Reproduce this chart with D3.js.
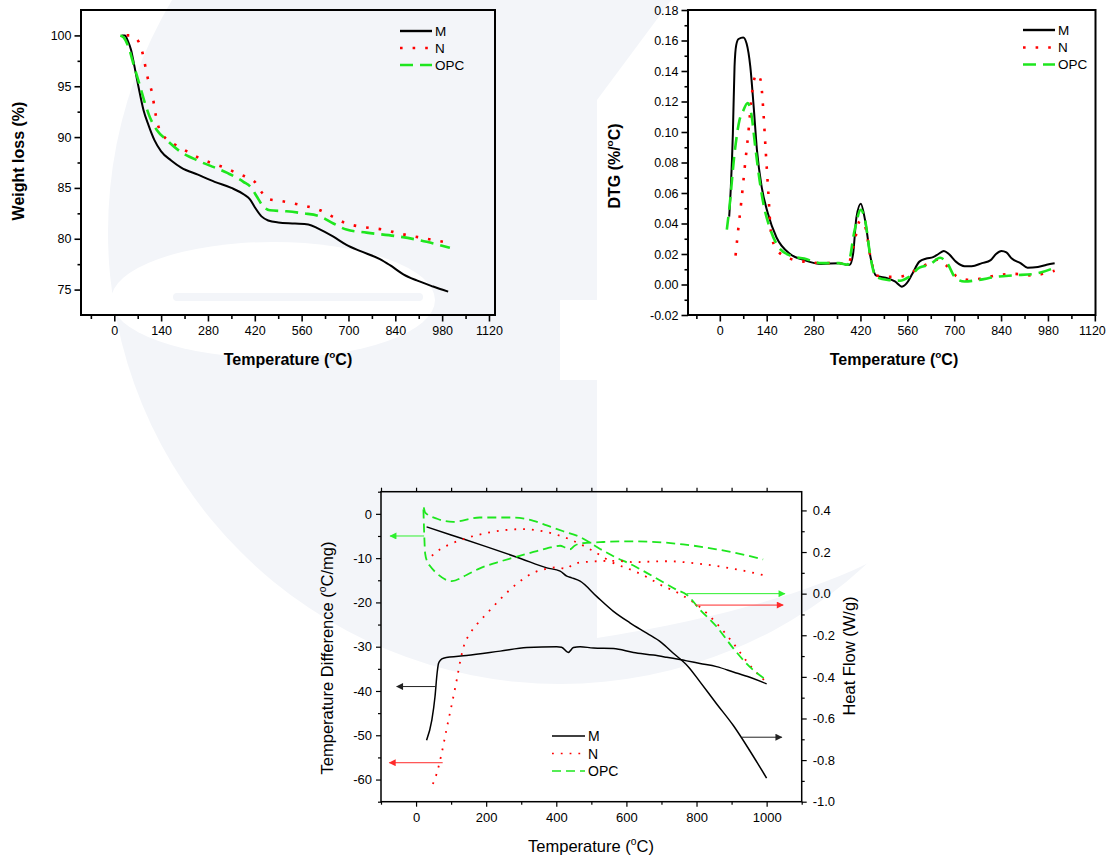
<!DOCTYPE html>
<html>
<head>
<meta charset="utf-8">
<title>TG / DTG / DSC of M, N and OPC</title>
<script src="https://cdn.jsdelivr.net/npm/d3@7/dist/d3.min.js"></script>
<style>
  body { margin: 0; background: #ffffff; }
  svg  { display: block; }
  text { font-family: "Liberation Sans", Arial, Helvetica, sans-serif; fill: #000; }
</style>
</head>
<body>
<svg id="figure" width="1107" height="858"></svg>
<script>
// Values

let seriesNames = [ 'M', 'N', 'OPC' ];

// TG curves: [temperature (°C), weight (%)]
let tgM = [ [22,100],[32,100],[40,99.5],[50,98.6],[60,97.0],[72,95.0],[87,92.7],[102,91.2],[120,89.7],[140,88.6],[170,87.7],[200,87.0],[250,86.3],[300,85.6],[350,85.0],[390,84.3],[405,83.9],[420,83.1],[440,82.2],[460,81.8],[490,81.6],[540,81.5],[580,81.4],[610,81.0],[655,80.2],[694,79.4],[734,78.8],[794,78.0],[824,77.4],[864,76.5],[904,75.9],[953,75.3],[998,74.8] ];
let tgN = [ [37,100],[50,100],[62,99.8],[74,99.3],[85,98.2],[95,96.6],[102,95.5],[114,94.2],[120,92.9],[128,91.5],[137,90.6],[150,90.0],[175,89.4],[206,88.8],[250,88.0],[286,87.5],[330,87.0],[370,86.4],[400,86.0],[420,85.6],[440,84.6],[460,83.9],[500,83.7],[560,83.3],[615,82.8],[645,82.3],[694,81.5],[734,81.2],[804,80.9],[854,80.5],[934,80.0],[998,79.6] ];
let tgOPC = [ [18,100],[28,99.8],[42,98.9],[59,97.0],[77,95.0],[92,93.3],[107,91.9],[127,90.7],[157,89.7],[196,88.6],[256,87.6],[336,86.5],[386,85.6],[410,85.0],[425,84.2],[445,83.2],[465,82.8],[515,82.7],[565,82.5],[615,82.2],[655,81.5],[694,80.9],[754,80.6],[854,80.2],[934,79.7],[1003,79.1] ];

// DTG curves: [temperature (°C), %/°C]
let dtgM = [ [28,0.0445],[33,0.064],[39,0.099],[44,0.143],[49,0.157],[56,0.161],[70,0.162],[80,0.158],[91,0.143],[101,0.117],[111,0.088],[125,0.064],[143,0.047],[169,0.031],[210,0.020],[252,0.016],[304,0.0134],[356,0.014],[377,0.013],[388,0.013],[398,0.020],[408,0.044],[421,0.053],[434,0.042],[450,0.018],[466,0.006],[502,0.004],[523,0.002],[544,-0.0014],[559,0.001],[575,0.007],[596,0.015],[617,0.017],[637,0.018],[653,0.020],[669,0.022],[684,0.020],[705,0.015],[731,0.012],[752,0.012],[783,0.014],[809,0.016],[825,0.020],[841,0.022],[856,0.021],[872,0.017],[898,0.014],[919,0.011],[950,0.0115],[976,0.013],[1000,0.014] ];
let dtgN = [ [47,0.019],[54,0.034],[65,0.056],[75,0.078],[85,0.099],[94,0.121],[102,0.134],[111,0.138],[122,0.134],[129,0.117],[137,0.088],[145,0.060],[153,0.034],[169,0.023],[210,0.017],[252,0.015],[315,0.014],[356,0.014],[382,0.013],[403,0.029],[419,0.042],[434,0.038],[450,0.018],[466,0.006],[502,0.005],[533,0.005],[565,0.007],[596,0.011],[627,0.014],[653,0.0165],[679,0.012],[710,0.005],[747,0.003],[783,0.004],[825,0.006],[877,0.007],[929,0.006],[1000,0.009] ];
let dtgOPC = [ [21,0.036],[28,0.049],[44,0.086],[59,0.108],[70,0.114],[83,0.119],[94,0.112],[106,0.090],[119,0.068],[132,0.051],[148,0.038],[174,0.025],[210,0.019],[252,0.017],[304,0.014],[356,0.014],[382,0.013],[403,0.036],[421,0.049],[434,0.042],[450,0.018],[466,0.005],[502,0.003],[538,0.0025],[565,0.005],[596,0.011],[627,0.013],[658,0.0175],[679,0.014],[705,0.004],[731,0.002],[773,0.003],[825,0.005],[877,0.006],[940,0.007],[1000,0.011] ];

// DTA curves, left axis: [temperature (°C), °C/mg]
let dtaM = [ [30,-51.1],[45,-46.6],[54,-41.3],[60,-36.0],[64,-33.8],[70,-33.0],[78,-32.6],[144,-32.0],[240,-31.0],[316,-30.2],[401,-30.0],[415,-30.1],[434,-31.3],[449,-30.2],[468,-30.0],[506,-30.3],[563,-30.4],[620,-31.3],[677,-31.9],[715,-32.4],[772,-33.2],[810,-33.8],[857,-34.5],[905,-35.7],[952,-36.9],[1000,-38.4] ];
let dtaN = [ [48,-61.0],[59,-58.6],[73,-54.1],[87,-48.6],[102,-43.0],[116,-37.5],[128,-32.5],[135,-30.2],[154,-27.0],[175,-24.8],[202,-22.5],[240,-19.3],[287,-15.8],[335,-13.3],[372,-12.4],[400,-12.1],[430,-12.4],[448,-11.3],[495,-10.8],[570,-10.6],[620,-10.9],[715,-10.7],[810,-11.3],[905,-12.4],[1000,-14.0] ];
let dtaOPC = [ [21,1.0],[23,-4.0],[26,-9.0],[32,-10.8],[40,-11.8],[60,-13.5],[102,-15.2],[144,-13.8],[182,-12.3],[230,-11.0],[277,-9.9],[335,-8.6],[373,-7.8],[411,-7.2],[425,-7.6],[439,-8.0],[452,-7.2],[468,-6.7],[525,-6.4],[591,-6.2],[667,-6.3],[762,-6.9],[857,-8.0],[933,-9.2],[990,-10.3] ];

// DSC heat flow curves, right axis: [temperature (°C), W/g]
let dscM = [ [30,0.321],[100,0.282],[200,0.226],[300,0.168],[373,0.124],[411,0.108],[430,0.084],[444,0.076],[468,0.060],[515,-0.013],[563,-0.085],[610,-0.140],[658,-0.190],[700,-0.235],[733,-0.285],[777,-0.352],[810,-0.424],[857,-0.529],[905,-0.634],[952,-0.755],[1000,-0.887] ];
let dscN = [ [45,0.182],[70,0.215],[100,0.240],[135,0.262],[205,0.293],[300,0.310],[375,0.295],[440,0.260],[500,0.210],[560,0.150],[620,0.110],[658,0.080],[700,0.040],[740,0.010],[772,-0.021],[810,-0.065],[857,-0.142],[905,-0.239],[952,-0.344],[1005,-0.435] ];
let dscOPC = [ [22,0.415],[26,0.390],[60,0.360],[106,0.345],[182,0.366],[277,0.366],[335,0.350],[373,0.328],[420,0.300],[468,0.272],[525,0.215],[563,0.180],[620,0.135],[658,0.100],[700,0.060],[743,0.019],[772,-0.005],[810,-0.077],[857,-0.158],[905,-0.263],[952,-0.352],[1000,-0.416] ];

// Arrows tying each DTA / DSC curve to its axis: [series, from °C, to °C, level, axis]
let dscArrows = [ ['OPC',23,-74,-5.0,'left'],['M',54,-55,-39.0,'left'],['N',76,-76,-56.2,'left'],
                  ['OPC',772,1052,0.0,'right'],['N',796,1047,-0.055,'right'],['M',929,1043,-0.69,'right'] ];

// Tick labels
let tgXTicks   = [ 0, 140, 280, 420, 560, 700, 840, 980, 1120 ];
let tgYTicks   = [ 75, 80, 85, 90, 95, 100 ];
let dtgYTicks  = [ -0.02, 0, 0.02, 0.04, 0.06, 0.08, 0.10, 0.12, 0.14, 0.16, 0.18 ];
let dscXTicks  = [ 0, 200, 400, 600, 800, 1000 ];
let dtaYTicks  = [ -60, -50, -40, -30, -20, -10, 0 ];
let dscYTicks  = [ -1.0, -0.8, -0.6, -0.4, -0.2, 0.0, 0.2, 0.4 ];

let styles = {
  M  : { color: '#000000', dashTop: null,     dashLow: null,    arrow: '#222222' },
  N  : { color: '#ff0000', dashTop: '2.6,10', dashLow: '1.8,7', arrow: '#ff2a2a' },
  OPC: { color: '#1ee61e', dashTop: '13,7',   dashLow: '9,5',   arrow: '#2ef02e' }
};

let svg = d3.select('#figure');
let defs = svg.append('defs');

// Faded logo behind the charts
let wmColor = '#f3f5f9';
let wm = svg.append('g').attr('class', 'watermark');
defs.append('clipPath').attr('id', 'wmClip')
    .append('circle').attr('cx', 560).attr('cy', 232).attr('r', 452);
wm.append('circle').attr('cx', 581).attr('cy', 317).attr('r', 525)
    .attr('fill', wmColor).attr('clip-path', 'url(#wmClip)');
wm.append('path').attr('d', 'M675,-5 L597,100 L597,638 C680,625 800,600 880,557 L1110,430 L1110,-5 Z').attr('fill', '#fff');
wm.append('rect').attr('x', 560).attr('y', 300).attr('width', 37).attr('height', 80).attr('fill', '#fff');
wm.append('ellipse').attr('cx', 273).attr('cy', 300).attr('rx', 162).attr('ry', 58).attr('fill', '#fff');
wm.append('rect').attr('x', 173).attr('y', 293).attr('width', 250).attr('height', 8).attr('rx', 4).attr('fill', wmColor);

// Arrow heads
Object.keys(styles).forEach((k) => {
  defs.append('marker').attr('id', 'head-' + k)
      .attr('viewBox', '0 0 10 10').attr('refX', 9).attr('refY', 5)
      .attr('markerWidth', 10).attr('markerHeight', 7).attr('markerUnits', 'userSpaceOnUse')
      .attr('orient', 'auto')
    .append('path').attr('d', 'M0,0 L10,5 L0,10 Z').attr('fill', styles[k].arrow);
});

/**
 * Text with an optional superscript part, e.g. (°C)
 */
function richText (g, x, y, parts, size, weight, rotate) {
  let t = g.append('text')
      .attr('text-anchor', 'middle')
      .style('font-size', size + 'px')
      .style('font-weight', weight || 'normal');
  if (rotate) {
    t.attr('transform', 'translate(' + x + ',' + y + ') rotate(-90)');
  } else {
    t.attr('x', x).attr('y', y);
  }
  let up = 0;
  parts.forEach((p) => {
    let s = t.append('tspan').text(p[0]);
    if (p[1]) {
      s.attr('dy', -size * 0.42).style('font-size', (size * 0.62) + 'px');
      up = size * 0.42;
    } else if (up) {
      s.attr('dy', up);
      up = 0;
    }
  });
  return t;
}

function tempParts () {
  return [ [ 'Temperature (', false ], [ 'o', true ], [ 'C)', false ] ];
}

/**
 * Tick marks (and labels) on one side of a plot box
 */
function tickAxis (g, axisFn, scale, values, size, pad, fmt, transform, cfg) {
  let ax = axisFn(scale).tickValues(values).tickSize(size).tickPadding(pad).tickFormat(fmt || (() => ''));
  let a = g.append('g').attr('transform', transform).call(ax);
  a.select('.domain').remove();
  a.selectAll('line').attr('stroke', '#000').attr('stroke-width', cfg.tickWidth);
  a.selectAll('text').style('font-size', cfg.tickFont + 'px');
  return a;
}

function range (a, b, step) {
  let out = [];
  for (let v = a; v <= b + 1e-9; v += step) out.push(+v.toFixed(4));
  return out;
}

function lineGen (x, y) {
  return d3.line().x((d) => x(d[0])).y((d) => y(d[1])).curve(d3.curveMonotoneX);
}

function drawSeries (g, data, gen, name, width, dashKey) {
  g.append('path').datum(data)
      .attr('d', gen)
      .attr('fill', 'none')
      .attr('stroke', styles[name].color)
      .attr('stroke-width', width)
      .attr('stroke-dasharray', styles[name][dashKey])
      .attr('stroke-linejoin', 'round');
}

function drawLegend (g, x0, x1, ys, fontSize, width, dashKey) {
  seriesNames.forEach((name, i) => {
    g.append('line')
        .attr('x1', x0).attr('x2', x1).attr('y1', ys[i]).attr('y2', ys[i])
        .attr('stroke', styles[name].color).attr('stroke-width', width)
        .attr('stroke-dasharray', styles[name][dashKey]);
    g.append('text').attr('x', x1 + 3).attr('y', ys[i]).attr('dy', '0.36em')
        .style('font-size', fontSize + 'px').text(name);
  });
}

/**
 * Panel with a single y axis (TG and DTG)
 */
function drawSimplePanel (cfg) {
  let g = svg.append('g').attr('class', cfg.name),
      box = cfg.box,
      x = d3.scaleLinear().domain(cfg.xDomain).range([ box.left, box.right ]),
      y = d3.scaleLinear().domain(cfg.yDomain).range([ box.bottom, box.top ]);

  tickAxis(g, d3.axisBottom, x, cfg.xMinor, 4, 0, null, 'translate(0,' + box.bottom + ')', cfg);
  let xa = tickAxis(g, d3.axisBottom, x, cfg.xTicks, 6.5, 5, (d) => d, 'translate(0,' + box.bottom + ')', cfg);
  tickAxis(g, d3.axisLeft, y, cfg.yMinor, 3.5, 0, null, 'translate(' + box.left + ',0)', cfg);
  tickAxis(g, d3.axisLeft, y, cfg.yTicks, 6.5, 3, cfg.yFormat, 'translate(' + box.left + ',0)', cfg);

  // The last label sits at the page edge: keep it inside
  if (cfg.clampLastLabel) {
    xa.selectAll('.tick:last-of-type text').attr('text-anchor', 'end').attr('x', 1106 - box.right);
  }

  g.append('rect')
      .attr('x', box.left).attr('y', box.top)
      .attr('width', box.right - box.left).attr('height', box.bottom - box.top)
      .attr('fill', 'none').attr('stroke', '#000').attr('stroke-width', 2);

  let gen = lineGen(x, y);
  cfg.series.forEach((s, i) => drawSeries(g, s, gen, seriesNames[i], i === 0 ? 2 : 2.6, 'dashTop'));

  drawLegend(g, cfg.legend.x0, cfg.legend.x1, cfg.legend.ys, 13.5, 2.4, 'dashTop');

  richText(g, cfg.xTitle.x, cfg.xTitle.y, tempParts(), 16, 'bold');
  richText(g, cfg.yTitle.x, cfg.yTitle.y, cfg.yTitle.parts, 16, 'bold', true);
}

drawSimplePanel({
  name     : 'tg',
  box      : { left: 81, right: 495, top: 10, bottom: 315 },
  xDomain  : [ -99.5, 1138 ],
  yDomain  : [ 72.5, 102.5 ],
  xTicks   : tgXTicks,
  xMinor   : range(-70, 1050, 140),
  yTicks   : tgYTicks,
  yMinor   : range(77.5, 97.5, 5),
  yFormat  : (d) => d,
  tickFont : 12.5,
  tickWidth: 1.6,
  series   : [ tgM, tgN, tgOPC ],
  legend   : { x0: 400, x1: 432, ys: [ 31, 48, 65 ] },
  xTitle   : { x: 288, y: 365 },
  yTitle   : { x: 24, y: 161, parts: [ [ 'Weight loss (%)', false ] ] }
});

drawSimplePanel({
  name     : 'dtg',
  box      : { left: 688, right: 1095.5, top: 10, bottom: 315 },
  xDomain  : [ -95, 1122 ],
  yDomain  : [ -0.02, 0.18 ],
  xTicks   : tgXTicks,
  xMinor   : range(-70, 1050, 140),
  yTicks   : dtgYTicks,
  yMinor   : range(-0.01, 0.17, 0.02),
  yFormat  : (d) => d.toFixed(2),
  tickFont : 12.5,
  tickWidth: 1.6,
  clampLastLabel: true,
  series   : [ dtgM, dtgN, dtgOPC ],
  legend   : { x0: 1023, x1: 1055, ys: [ 30, 47.5, 64.5 ] },
  xTitle   : { x: 894, y: 365 },
  yTitle   : { x: 620, y: 166, parts: [ [ 'DTG (%/', false ], [ 'o', true ], [ 'C)', false ] ] }
});

// ---- DTA / DSC panel with two y axes ----
(function () {
  let cfg = { tickFont: 13, tickWidth: 1.2 },
      box = { left: 381, right: 801.7, top: 491.7, bottom: 801.7 },
      g   = svg.append('g').attr('class', 'dsc'),
      x   = d3.scaleLinear().domain([ -100, 1100 ]).range([ box.left, box.right ]),
      yL  = d3.scaleLinear().domain([ -65, 5 ]).range([ box.bottom, box.top ]),
      yR  = d3.scaleLinear().domain([ -1.0, 0.49 ]).range([ box.bottom, box.top ]);

  let bottomT = 'translate(0,' + box.bottom + ')',
      topT    = 'translate(0,' + box.top + ')',
      leftT   = 'translate(' + box.left + ',0)',
      rightT  = 'translate(' + box.right + ',0)';

  tickAxis(g, d3.axisBottom, x, range(-100, 1100, 200), 3, 0, null, bottomT, cfg);
  tickAxis(g, d3.axisBottom, x, dscXTicks, 5, 6, (d) => d, bottomT, cfg);
  tickAxis(g, d3.axisBottom, x, range(-100, 1000, 100), -4, 0, null, topT, cfg);
  tickAxis(g, d3.axisLeft, yL, range(-65, 5, 10), 3, 0, null, leftT, cfg);
  tickAxis(g, d3.axisLeft, yL, dtaYTicks, 5, 4, (d) => d, leftT, cfg);
  tickAxis(g, d3.axisRight, yR, range(-0.9, 0.3, 0.2), 3, 0, null, rightT, cfg);
  tickAxis(g, d3.axisRight, yR, dscYTicks, 5, 6, (d) => d.toFixed(1), rightT, cfg);

  g.append('rect')
      .attr('x', box.left).attr('y', box.top)
      .attr('width', box.right - box.left).attr('height', box.bottom - box.top)
      .attr('fill', 'none').attr('stroke', '#000').attr('stroke-width', 1.5);

  let genL = lineGen(x, yL),
      genR = lineGen(x, yR);
  [ dscM, dscN, dscOPC ].forEach((s, i) => drawSeries(g, s, genR, seriesNames[i], i === 0 ? 1.5 : 1.8, 'dashLow'));
  [ dtaM, dtaN, dtaOPC ].forEach((s, i) => drawSeries(g, s, genL, seriesNames[i], i === 0 ? 1.5 : 1.8, 'dashLow'));

  dscArrows.forEach((a) => {
    let ys = a[4] === 'left' ? yL : yR;
    g.append('line')
        .attr('x1', x(a[1])).attr('x2', x(a[2]))
        .attr('y1', ys(a[3])).attr('y2', ys(a[3]))
        .attr('stroke', styles[a[0]].arrow).attr('stroke-width', 1)
        .attr('marker-end', 'url(#head-' + a[0] + ')');
  });

  drawLegend(g, 552, 585, [ 736, 753.5, 771 ], 14, 1.6, 'dashLow');

  richText(g, 591, 852, tempParts(), 16.5, 'normal');
  richText(g, 333, 658, [ [ 'Temperature Difference (', false ], [ 'o', true ], [ 'C/mg)', false ] ], 16.5, 'normal', true);
  richText(g, 855, 656, [ [ 'Heat Flow (W/g)', false ] ], 16.5, 'normal', true);
})();
</script>
</body>
</html>
